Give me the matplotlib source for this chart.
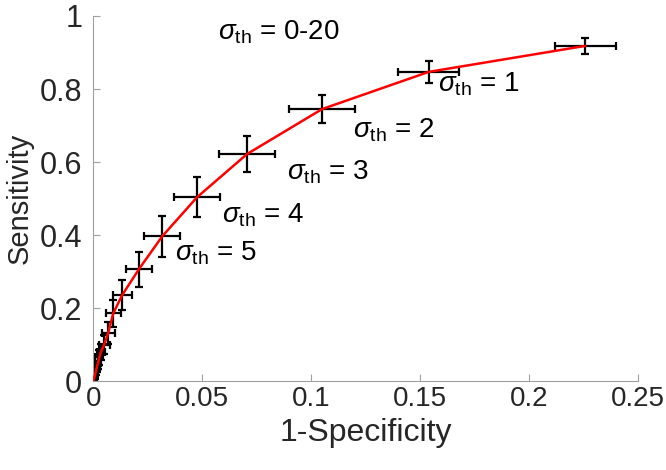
import numpy as np
import matplotlib.pyplot as plt

plt.rcParams['font.family'] = ['Liberation Sans', 'DejaVu Sans']
plt.rcParams['mathtext.fontset'] = 'custom'
plt.rcParams['mathtext.it'] = 'Liberation Sans:italic'
plt.rcParams['mathtext.rm'] = 'Liberation Sans'

# sigma_th = 0 .. 20
fpr = [0.2257, 0.154, 0.105, 0.0706, 0.0477, 0.0317, 0.021, 0.0133, 0.0092, 0.0068, 0.005,
       0.0035, 0.0028, 0.0022, 0.0017, 0.0013, 0.001, 0.0007, 0.0005, 0.0003, 0.0002]
tpr = [0.918, 0.847, 0.745, 0.622, 0.504, 0.397, 0.307, 0.236, 0.186, 0.131, 0.10,
       0.08, 0.065, 0.05, 0.04, 0.03, 0.022, 0.015, 0.01, 0.006, 0.003]
fpr_err = [0.014, 0.014, 0.015, 0.013, 0.0106, 0.0083, 0.006, 0.0044, 0.0035, 0.003, 0.0025,
           0.002, 0.0018, 0.0015, 0.0012, 0.001, 0.0008, 0.0006, 0.0005, 0.0003, 0.0002]
tpr_err = [0.023, 0.03, 0.038, 0.048, 0.055, 0.056, 0.048, 0.041, 0.037, 0.03, 0.026,
           0.022, 0.02, 0.017, 0.015, 0.012, 0.01, 0.008, 0.006, 0.004, 0.003]

labels = ['1', '2', '3', '4', '5']
label_x = [0.158, 0.119, 0.089, 0.059, 0.0376]
label_y = [0.814, 0.688, 0.573, 0.455, 0.351]

fig = plt.figure(figsize=(6.66, 4.70), dpi=100)
ax = fig.add_axes([0.14, 0.189, 0.818, 0.777])

curve_x = [0] + fpr[::-1]
curve_y = [0] + tpr[::-1]
ax.plot(curve_x, curve_y, color='red', lw=1.8, zorder=3)
ax.errorbar(fpr, tpr, xerr=fpr_err, yerr=tpr_err, fmt='none', ecolor='black',
            elinewidth=1.6, capsize=3, capthick=1.6, zorder=2)

ax.text(0.0573, 0.956, r'$\sigma_{\mathrm{th}}$ = 0-20', fontsize=20, va='center', color='black')
for lab, lx, ly in zip(labels, label_x, label_y):
    ax.text(lx, ly, r'$\sigma_{\mathrm{th}}$ = ' + lab, fontsize=20, va='center', color='black')

ax.set_xlim(0, 0.25)
ax.set_ylim(0, 1)
ax.set_xticks([0, 0.05, 0.1, 0.15, 0.2, 0.25])
ax.set_xticklabels(['0', '0.05', '0.1', '0.15', '0.2', '0.25'])
ax.set_yticks([0, 0.2, 0.4, 0.6, 0.8, 1])
ax.set_yticklabels(['0', '0.2', '0.4', '0.6', '0.8', '1'])
ax.spines['top'].set_visible(False)
ax.spines['right'].set_visible(False)
for s in ['left', 'bottom']:
    ax.spines[s].set_color('#a0a0a0')
ax.tick_params(direction='in', length=5, color='#a0a0a0', labelcolor='#262626')
ax.tick_params(axis='x', labelsize=20)
ax.tick_params(axis='y', labelsize=22, pad=8)
ax.set_xlabel('1-Specificity', fontsize=23, color='#262626', labelpad=4)
ax.set_ylabel('Sensitivity', fontsize=21, color='#262626', labelpad=4)

fig.savefig('out.png', dpi=100)
